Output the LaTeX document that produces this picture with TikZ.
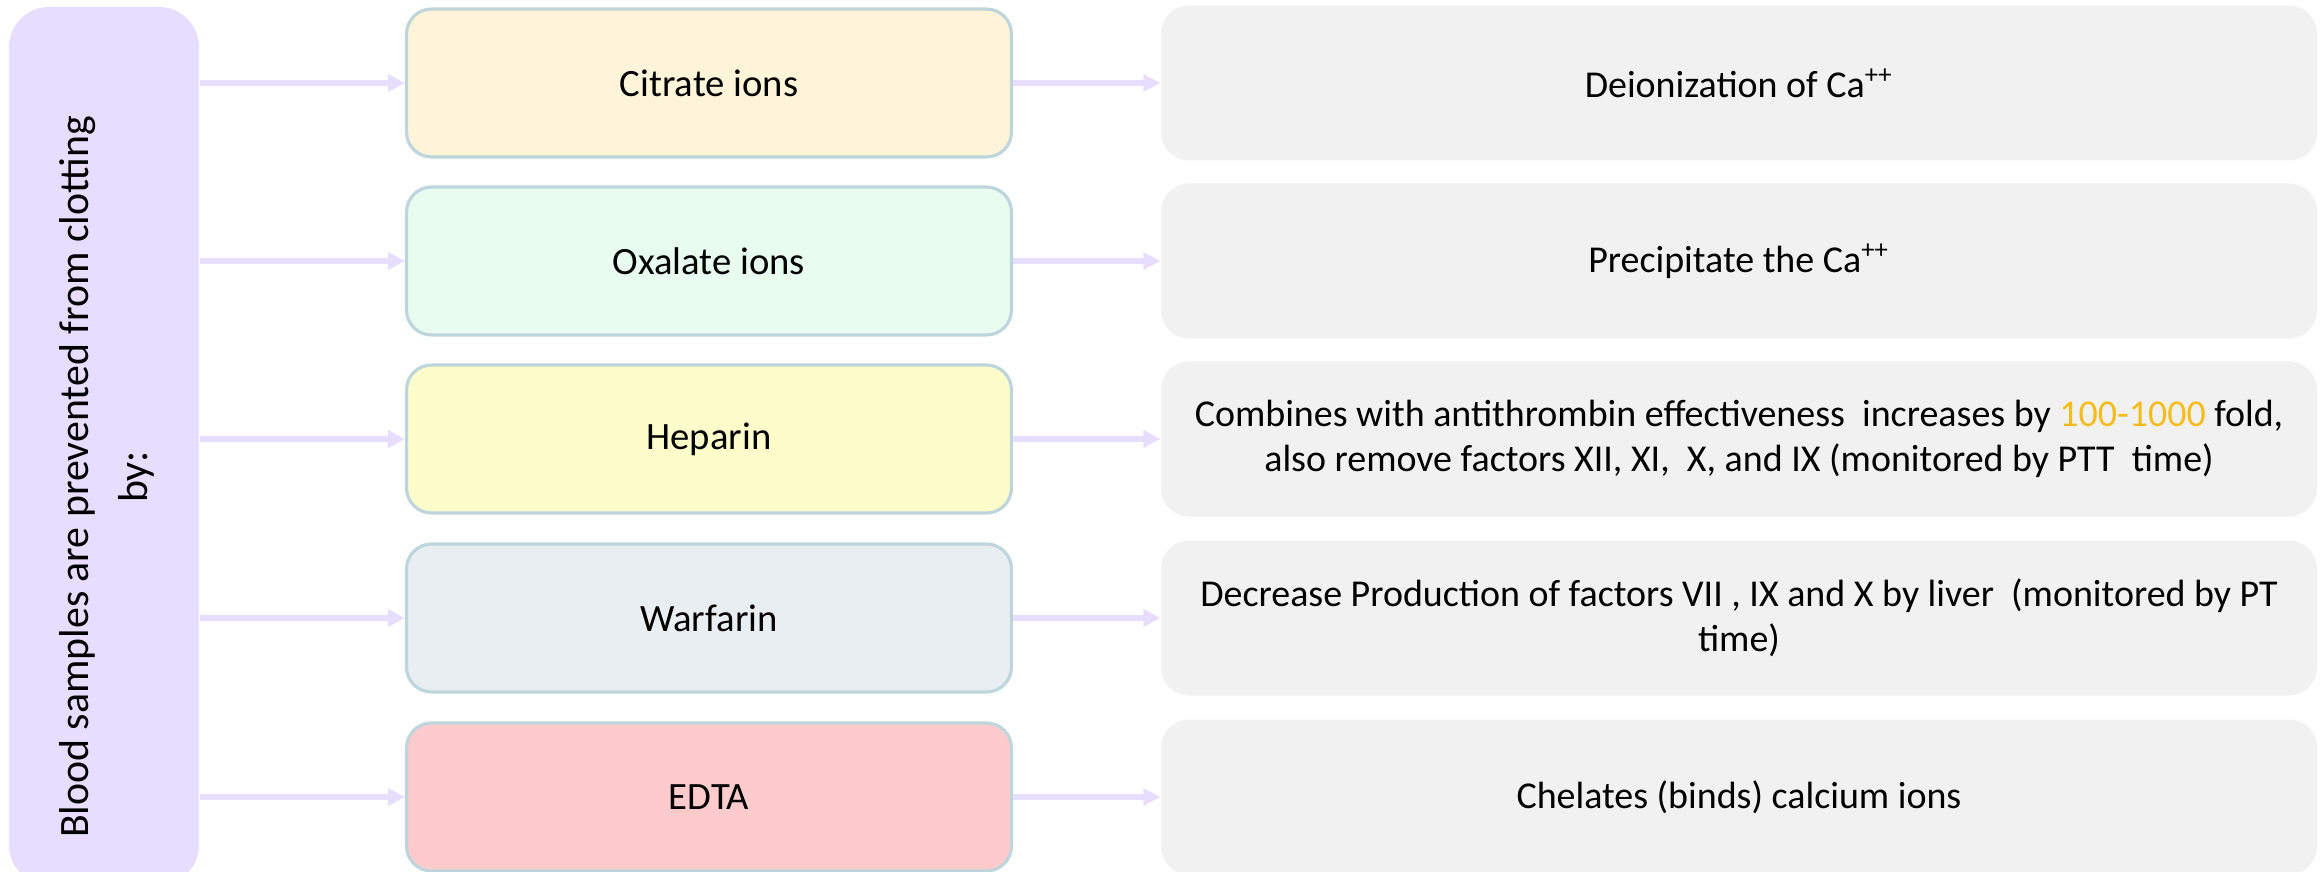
\documentclass[tikz,border=0pt]{standalone}
\usepackage{fontspec}
\setmainfont{Carlito}
\usetikzlibrary{arrows.meta}

\definecolor{lavbox}{HTML}{E5DEFF}
\definecolor{citbox}{HTML}{FEF4D9}
\definecolor{oxabox}{HTML}{E8FCF0}
\definecolor{hepbox}{HTML}{FDFCCB}
\definecolor{warbox}{HTML}{E9EEF2}
\definecolor{edtbox}{HTML}{FDCBCB}
\definecolor{edgeblue}{HTML}{BED5DC}
\definecolor{effgray}{HTML}{F1F1F1}
\definecolor{foldgold}{HTML}{F5BD1C}

\begin{document}
\begin{tikzpicture}[
    agent/.style={draw=edgeblue, line width=0.9pt, rounded corners=0.25cm,
        minimum width=6.05cm, minimum height=1.48cm,
        font=\fontsize{11}{12.8}\selectfont},
    effect/.style={fill=effgray, rounded corners=0.28cm, align=center,
        minimum width=11.56cm, minimum height=1.55cm,
        font=\fontsize{10.8}{12.8}\selectfont},
    link/.style={draw=lavbox, line width=1.7pt,
        -{Triangle[length=0.17cm, width=0.17cm]}}
]
    % page size
    \useasboundingbox (0,0) rectangle (23.2,8.71);
    \clip (0,0) rectangle (23.2,8.71);

    % Left box (runs past the bottom edge)
    \node[fill=lavbox, rounded corners=0.4cm, minimum width=1.9cm,
          minimum height=8.78cm] (blood) at (1.04,4.25) {};
    \node[rotate=90, align=center, font=\fontsize{11.9}{16.8}\selectfont]
          (bloodtxt) at (1.07,3.94) {Blood samples are prevented from clotting\\by:};

    % Middle column: the agents
    \node[agent, fill=citbox] (cit) at (7.09,7.88) {Citrate ions};
    \node[agent, fill=oxabox] (oxa) at (7.09,6.10) {Oxalate ions};
    \node[agent, fill=hepbox] (hep) at (7.09,4.32) {Heparin};
    \node[agent, fill=warbox] (war) at (7.09,2.53) {Warfarin};
    \node[agent, fill=edtbox] (edt) at (7.09,0.74) {EDTA};

    % Right column: what each one does
    \node[effect] (deion) at (17.39,7.88) {Deionization of Ca\textsuperscript{++}};
    \node[effect] (precip) at (17.39,6.10) {Precipitate the Ca\textsuperscript{++}};
    \node[effect] (antit) at (17.39,4.32) {Combines with antithrombin effectiveness\ \ increases by \textcolor{foldgold}{100-1000} fold,\\also remove factors XII, XI,\ \ X, and IX (monitored by PTT\ \ time)};
    \node[effect] (liver) at (17.39,2.53) {Decrease Production of factors VII , IX and X by liver\ \ (monitored by PT\\time)};
    \node[effect] (chel) at (17.39,0.74) {Chelates (binds) calcium ions};

    % Arrows
    \foreach \a/\b in {cit/deion, oxa/precip, hep/antit, war/liver, edt/chel} {
        \draw[link] (blood.east |- \a.west) -- (\a.west);
        \draw[link] (\a.east) -- (\b.west);
    }
\end{tikzpicture}
\end{document}
